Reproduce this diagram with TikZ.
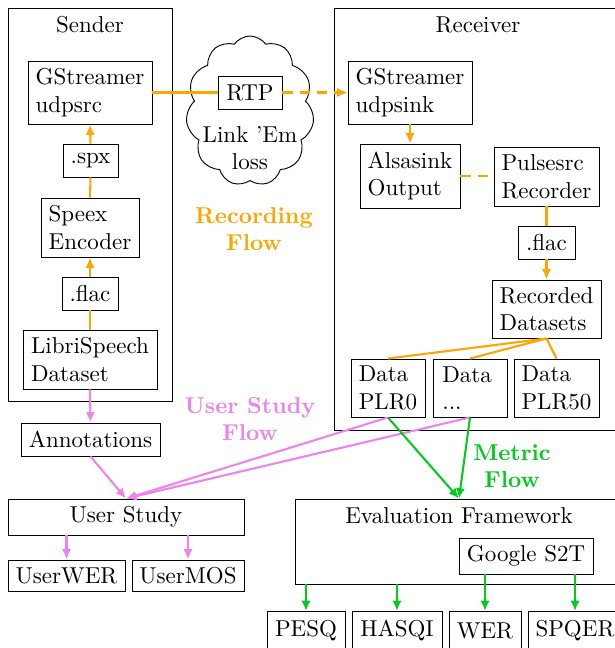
\documentclass[tikz,border=0pt]{standalone}
\usetikzlibrary{arrows.meta,shapes.symbols}
\definecolor{recflow}{RGB}{255,165,0}
\definecolor{userflow}{RGB}{238,130,238}
\definecolor{metflow}{RGB}{0,204,30}
\tikzset{
  wh/.style 2 args={minimum width=#1*0.435pt, minimum height=#2*0.435pt},
  box/.style={draw, inner sep=2pt, align=left},
  frame/.style={draw},
  tip/.style={-{Latex[length=4.5pt,width=4pt]}},
  rec/.style={draw=recflow, line width=0.9pt},
  usr/.style={draw=userflow, line width=0.9pt},
  met/.style={draw=metflow, line width=0.9pt},
  shortdash/.style={dash pattern=on 4.5pt off 3pt},
  flowlabel/.style={font=\bfseries, align=center},
}
\begin{document}
\begin{tikzpicture}[x=0.435pt, y=-0.435pt]
\useasboundingbox (0,0) rectangle (615,648);
\clip (0,0) rectangle (615,648);
% frames
\node[frame, wh={164}{393}] (sender) at (90,204.5) {};
\node (senderlbl) at (90,25) {Sender};
\node[frame, wh={288}{422}] (receiver) at (478,219) {};
\node (receiverlbl) at (478,25) {Receiver};
% sender side
\node[box, wh={124}{63}] (udpsrc) at (90,92.5) {GStreamer\\udpsrc};
\node[box, wh={55}{33}] (spx) at (90.5,160.5) {.spx};
\node[box, wh={98}{59}] (speex) at (90,227.5) {Speex\\Encoder};
\node[box, wh={56}{33}] (flaca) at (90,293.5) {.flac};
\node[box, wh={134}{59}] (libri) at (90,359.5) {LibriSpeech\\Dataset};
% cloud
\node[draw, cloud, cloud puffs=11, cloud puff arc=110, aspect=0.75, wh={128}{150}, inner sep=0pt] (cloud) at (250,111) {};
\node[box, wh={64}{33}] (rtp) at (250,92.5) {RTP};
\node[align=center] (linkem) at (250,148) {Link 'Em\\loss};
% receiver side
\node[box, wh={124}{63}] (udpsink) at (410,92.5) {GStreamer\\udpsink};
\node[box, wh={100}{64}] (alsa) at (410,176) {Alsasink\\Output};
\node[box, wh={105}{59}] (pulse) at (546.5,176.5) {Pulsesrc\\Recorder};
\node[box, wh={57}{33}] (flacb) at (546.5,242.5) {.flac};
\node[box, wh={109}{58}] (recorded) at (546.5,309) {Recorded\\Datasets};
\node[box, wh={74}{58}] (plr0) at (388,388) {Data\\PLR0};
\node[box, wh={74}{58}, text width=24pt] (plrdots) at (470,388) {Data\\...};
\node[box, wh={85}{58}] (plr50) at (556.5,388) {Data\\PLR50};
% user study
\node[box, wh={139}{33}] (annot) at (90.5,439.5) {Annotations};
\node[box, wh={236}{36}, align=center] (userstudy) at (126,517) {User Study};
\node[box, wh={117}{31}] (userwer) at (66.5,575.5) {UserWER};
\node[box, wh={112}{31}] (usermos) at (188,575.5) {UserMOS};
% evaluation
\node[frame, wh={328}{85}] (eval) at (459,541.5) {};
\node (evallbl) at (459,516) {Evaluation Framework};
\node[box, wh={134}{36}] (google) at (526,556) {Google S2T};
\node[box, wh={78}{38}, anchor=north] (pesq) at (306,611) {PESQ};
\node[box, wh={90}{38}, anchor=north] (hasqi) at (397,611) {HASQI};
\node[box, wh={72}{38}, anchor=north] (wer) at (485,611) {WER};
\node[box, wh={94}{38}, anchor=north] (spqer) at (575,611) {SPQER};
% flow labels
\node[flowlabel, text=recflow] (reclbl) at (254,229) {Recording\\Flow};
\node[flowlabel, text=userflow] (usrlbl) at (250,419) {User Study\\Flow};
\node[flowlabel, text=metflow] (metlbl) at (512,466) {Metric\\Flow};
% recording flow
\draw[rec] (libri.north) -- (flaca.south);
\draw[rec, tip] (flaca.north) -- (speex.south);
\draw[rec] (speex.north) -- (spx.south);
\draw[rec, tip] (spx.north) -- (udpsrc.south);
\draw[rec] (udpsrc.east) -- (rtp.west);
\draw[rec, tip, shortdash] (rtp.east) -- (udpsink.west);
\draw[rec, tip] (udpsink.south) -- (alsa.north);
\draw[rec, shortdash] (alsa.east) -- (alsa.east -| pulse.west);
\draw[rec] (pulse.south) -- (flacb.north);
\draw[rec, tip] (flacb.south) -- (recorded.north);
\draw[rec] (recorded.south) -- (plr0.north);
\draw[rec] (recorded.south) -- (plrdots.north);
\draw[rec] (recorded.south) -- (plr50.north);
% user study flow
\draw[usr, tip] (libri.south) -- (annot.north);
\draw[usr, tip] (annot.south) -- (userstudy.north);
\draw[usr, tip] (plr0.south) -- (userstudy.north);
\draw[usr, tip] (plrdots.south) -- (userstudy.north);
\draw[usr, tip] (userstudy.south -| userwer.north) -- (userwer.north);
\draw[usr, tip] (userstudy.south -| usermos.north) -- (usermos.north);
% metric flow
\draw[met, tip] (plr0.south) -- (eval.north);
\draw[met, tip] (plrdots.south) -- (eval.north);
\draw[met, tip] (eval.south -| pesq.north) -- (pesq.north);
\draw[met, tip] (eval.south -| hasqi.north) -- (hasqi.north);
\draw[met, tip] (google.south -| wer.north) -- (wer.north);
\draw[met, tip] (google.south -| spqer.north) -- (spqer.north);
\end{tikzpicture}
\end{document}
